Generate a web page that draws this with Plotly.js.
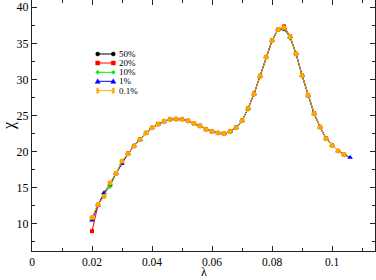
<!DOCTYPE html>
<html>
<head>
<meta charset="utf-8">
<script src="https://cdn.plot.ly/plotly-3.0.1.min.js"></script>
<style>html,body{margin:0;padding:0;background:#fff;}#chart{width:376px;height:280px;}</style>
</head>
<body>
<div id="chart"></div>
<script>
// lambda values
const lambda = [0.020,0.022,0.024,0.026,0.028,0.030,0.032,0.034,0.036,0.038,
  0.040,0.042,0.044,0.046,0.048,0.050,0.052,0.054,0.056,0.058,
  0.060,0.062,0.064,0.066,0.068,0.070,0.072,0.074,0.076,0.078,
  0.080,0.082,0.084,0.086,0.088,0.090,0.092,0.094,0.096,0.098,
  0.100,0.102,0.104];
const lambdaBlue = [0.020,0.022,0.024,0.026,0.028,0.030,0.032,0.034,0.036,0.038,
  0.040,0.042,0.044,0.046,0.048,0.050,0.052,0.054,0.056,0.058,
  0.060,0.062,0.064,0.066,0.068,0.070,0.072,0.074,0.076,0.078,
  0.080,0.082,0.084,0.086,0.088,0.090,0.092,0.094,0.096,0.098,
  0.100,0.102,0.104,0.106];

const chi50 = [10.7,12.7,14.0,15.5,17.0,18.5,19.7,20.8,21.7,22.6,
  23.3,23.8,24.2,24.5,24.5,24.5,24.25,23.9,23.55,23.1,
  22.8,22.6,22.5,22.8,23.3,24.3,26.0,28.0,30.45,33.1,
  35.4,36.9,36.95,35.9,33.5,30.55,27.8,25.3,23.4,21.8,
  20.9,20.1,19.6];
const chi20 = [9.0,12.6,14.0,15.5,17.0,18.5,19.75,20.8,21.75,22.6,
  23.3,23.85,24.2,24.5,24.55,24.5,24.3,23.9,23.6,23.1,
  22.8,22.6,22.5,22.8,23.35,24.3,26.0,28.05,30.5,33.1,
  35.45,36.9,37.35,36.0,33.55,30.6,27.85,25.35,23.45,21.85,
  20.9,20.1,19.6];
const chi10 = [10.75,12.65,14.1,15.2,17.0,18.5,19.7,20.8,21.7,22.6,
  23.3,23.8,24.2,24.45,24.5,24.5,24.25,23.9,23.55,23.1,
  22.8,22.6,22.5,22.8,23.3,24.25,25.9,27.95,30.4,33.1,
  35.35,36.9,37.1,35.75,33.5,30.5,27.75,25.3,23.4,21.8,
  20.9,20.1,19.6];
const chi1 = [10.5,12.6,14.3,15.5,17.0,18.35,19.7,20.8,21.7,22.6,
  23.3,23.8,24.2,24.5,24.5,24.5,24.25,23.9,23.55,23.1,
  22.8,22.6,22.5,22.8,23.3,24.3,26.0,28.0,30.45,33.1,
  35.4,36.9,37.15,35.9,33.55,30.55,27.7,25.2,23.4,21.8,
  20.9,20.1,19.6,19.2];
const chi01 = [10.9,12.7,13.8,15.7,17.0,18.7,19.7,20.8,21.7,22.6,
  23.3,23.8,24.2,24.5,24.5,24.5,24.25,23.9,23.55,23.1,
  22.8,22.6,22.5,22.8,23.3,24.3,26.0,28.0,30.45,33.1,
  35.4,36.9,37.15,35.95,33.55,30.55,27.8,25.3,23.4,21.8,
  20.9,20.1,19.6];

const seriesNames = ['50%','20%','10%','1%','0.1%'];
const seriesColors = ['#000000','#ff0000','#00ee00','#0000ff','#ffa500'];
const seriesSymbols = ['circle','square','diamond','triangle-up','circle'];
const seriesX = [lambda, lambda, lambda, lambdaBlue, lambda];
const seriesY = [chi50, chi20, chi10, chi1, chi01];
const markerSizes = [4,4,4,5,5];

const traces = seriesNames.map((n,i)=>({
  x: seriesX[i], y: seriesY[i], name: n, type:'scatter', mode:'lines+markers',
  line:{color:seriesColors[i], width:1},
  marker:{color:seriesColors[i], symbol:seriesSymbols[i], size:markerSizes[i]},
  showlegend:false
}));

// manual legend (Grace style)
const L=32, W=343, H=251;
const px2x = p => (p-L)/W;
const py2y = p => 1 - p/H;
const rows = [54,63,72.3,81.3,90.7];
const shapes = [];
const annotations = [];
function markerShape(sym, color, xa, ya, isLast){
  const base = {xref:'paper', yref:'paper', xsizemode:'pixel', ysizemode:'pixel',
    xanchor:xa, yanchor:ya, fillcolor:color, line:{color:color, width:0.5}};
  if(isLast) return Object.assign({type:'rect', x0:-1, x1:1, y0:-2.5, y1:2.5}, base);
  if(sym==='circle') return Object.assign({type:'circle', x0:-2, x1:2, y0:-2, y1:2}, base);
  if(sym==='square') return Object.assign({type:'rect', x0:-2, x1:2, y0:-2, y1:2}, base);
  if(sym==='diamond') return Object.assign({type:'path', path:'M-2,0 L0,2 L2,0 L0,-2 Z'}, base);
  return Object.assign({type:'path', path:'M-2.5,-2 L2.5,-2 L0,2.5 Z'}, base);
}
seriesNames.forEach((n,i)=>{
  const y = py2y(rows[i]);
  const xa = px2x(97.7), xb = px2x(113.3);
  const last = i===seriesNames.length-1;
  shapes.push({type:'line', xref:'paper', yref:'paper', x0:xa, x1:xb, y0:y, y1:y,
    line:{color:seriesColors[i], width:1}});
  shapes.push(markerShape(seriesSymbols[i], seriesColors[i], xa, y, last));
  shapes.push(markerShape(seriesSymbols[i], seriesColors[i], xb, y, last));
  annotations.push({xref:'paper', yref:'paper', x:px2x(116.5), y:y, xanchor:'left', yanchor:'middle',
    text:n, showarrow:false, font:{family:'Liberation Serif', size:9, color:'#000'}});
});
// x-axis title placed below tick labels
annotations.push({xref:'paper', yref:'paper', x:0.5, y:py2y(280), xanchor:'center', yanchor:'bottom',
  text:'λ', showarrow:false, borderpad:0, font:{family:'Liberation Serif', size:12, color:'#000'}});

const axisCommon = {
  showline:true, linecolor:'#222', linewidth:1, mirror:'ticks',
  ticks:'inside', ticklen:5, tickwidth:1, tickcolor:'#222',
  showgrid:false, zeroline:false,
  tickfont:{family:'Liberation Serif', size:12, color:'#000'}
};

const layout = {
  width:376, height:280,
  margin:{l:32, r:1, t:0, b:29},
  paper_bgcolor:'#fff', plot_bgcolor:'#fff',
  font:{family:'Liberation Serif', color:'#000'},
  xaxis: Object.assign({}, axisCommon, {
    range:[0, 0.1143], tickvals:[0,0.02,0.04,0.06,0.08,0.1],
    ticktext:['0','0.02','0.04','0.06','0.08','0.1'],
    tickfont:{family:'Liberation Serif', size:11.5, color:'#000'},
    minor:{ticks:'inside', ticklen:3, tickcolor:'#222', dtick:0.01, tick0:0, showgrid:false}
  }),
  yaxis: Object.assign({}, axisCommon, {
    range:[6.25, 41], tickvals:[10,15,20,25,30,35,40],
    minor:{ticks:'inside', ticklen:3, tickcolor:'#222', dtick:2.5, tick0:0, showgrid:false},
    title:{text:'χ', font:{family:'Liberation Serif', size:16}, standoff:3}
  }),
  shapes: shapes,
  annotations: annotations,
  showlegend:false
};

Plotly.newPlot('chart', traces, layout, {displayModeBar:false, staticPlot:true});
</script>
</body>
</html>
